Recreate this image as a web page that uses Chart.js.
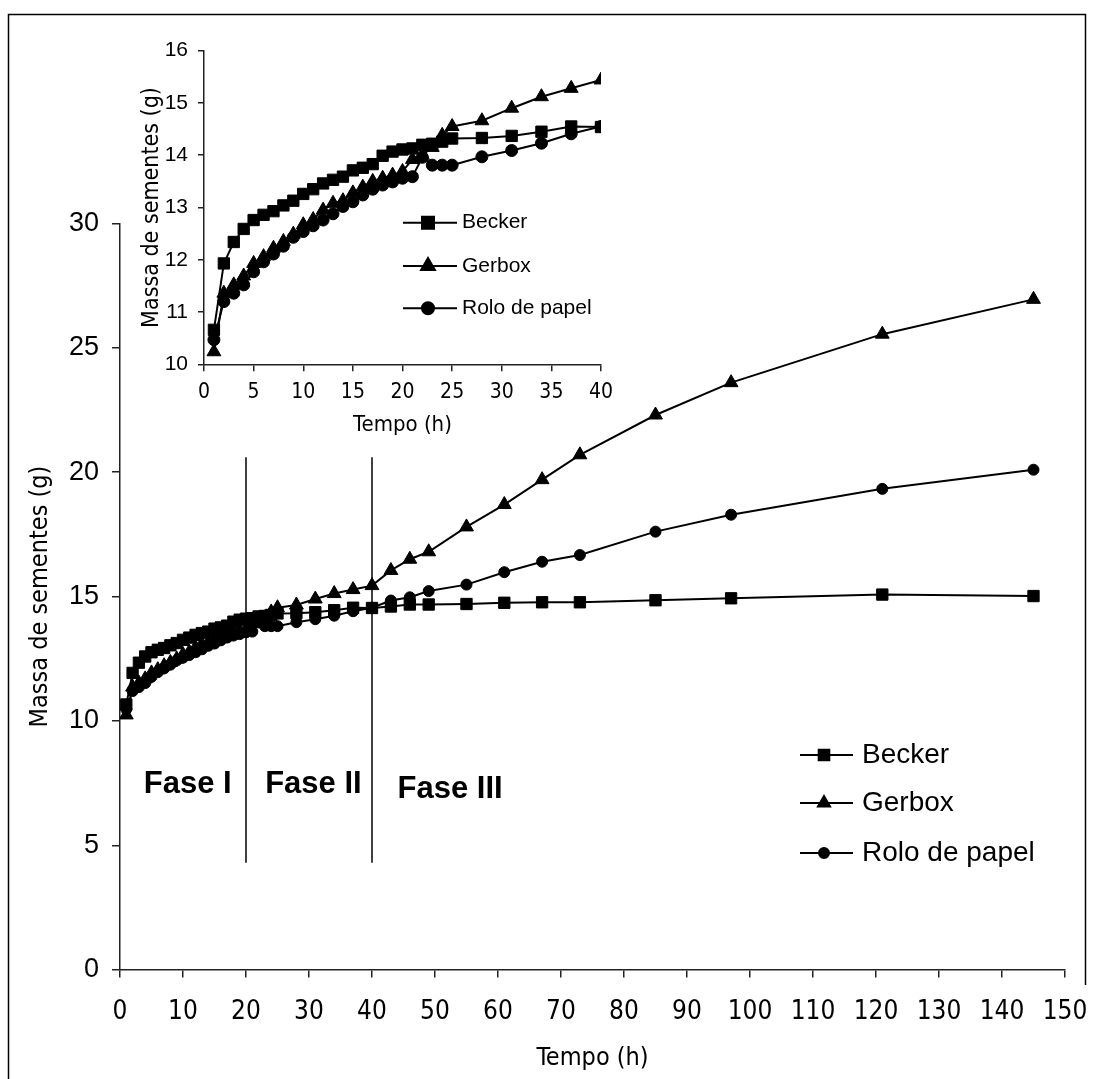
<!DOCTYPE html>
<html>
<head>
<meta charset="utf-8">
<script src="https://cdn.jsdelivr.net/npm/chart.js@4.4.1/dist/chart.umd.min.js"></script>
<style>
  body { margin: 0; background: #fff; }
  #wrap { position: relative; width: 1093px; height: 1079px; overflow: hidden; }
  #main { position: absolute; left: 0; top: 0; }
  #inset { position: absolute; left: 130px; top: 30px; }
</style>
</head>
<body>
<div id="wrap">
  <canvas id="main" width="1093" height="1079"></canvas>
  <canvas id="inset" width="500" height="420"></canvas>
</div>
<script>
// tempo (h) das pesagens
const tempos = [1, 2, 3, 4, 5, 6, 7, 8, 9, 10, 11, 12, 13, 14, 15, 16, 17, 18, 19, 20,
  21, 22, 23, 24, 25, 28, 31, 34, 37, 40, 43, 46, 49, 55, 61, 67, 73, 85, 97, 121, 145];

// massa de sementes (g)
const becker = [10.66, 11.93, 12.34, 12.59, 12.76, 12.86, 12.93, 13.04, 13.13, 13.26,
  13.35, 13.46, 13.53, 13.59, 13.71, 13.76, 13.83, 13.99, 14.07, 14.11,
  14.13, 14.20, 14.22, 14.26, 14.32, 14.33, 14.37, 14.45, 14.55, 14.54,
  14.60, 14.68, 14.68, 14.70, 14.75, 14.77, 14.77, 14.85, 14.93, 15.08, 15.02];
const gerbox = [10.24, 11.36, 11.52, 11.69, 11.93, 12.06, 12.22, 12.35, 12.49, 12.67,
  12.77, 12.95, 13.08, 13.13, 13.28, 13.39, 13.50, 13.56, 13.62, 13.69,
  13.92, 14.00, 14.15, 14.38, 14.55, 14.66, 14.90, 15.12, 15.28, 15.44,
  16.05, 16.50, 16.80, 17.80, 18.70, 19.70, 20.70, 22.30, 23.60, 25.55, 26.95];
const rolo = [10.47, 11.20, 11.36, 11.52, 11.77, 11.96, 12.11, 12.26, 12.43, 12.54,
  12.65, 12.76, 12.88, 13.02, 13.11, 13.24, 13.35, 13.43, 13.49, 13.56,
  13.59, 13.96, 13.81, 13.81, 13.81, 13.97, 14.09, 14.23, 14.41, 14.55,
  14.84, 14.97, 15.22, 15.48, 15.98, 16.40, 16.67, 17.61, 18.29, 19.33, 20.10];

const series = ['Becker', 'Gerbox', 'Rolo de papel'];
const marcadores = ['rect', 'triangle', 'circle'];

// divisao das fases
const fases = ['Fase I', 'Fase II', 'Fase III'];
const limitesFase = [20, 40];
const alturaLinhaFase = [4.3, 20.6];

// eixos
const xTicksMain = { min: 0, max: 150, step: 10 };
const yTicksMain = { min: 0, max: 30, step: 5 };
const xTicksInset = { min: 0, max: 40, step: 5 };
const yTicksInset = { min: 10, max: 16, step: 1 };
const fimInset = 40;

const NARROW = '"Liberation Sans Narrow", "Arial Narrow", "DejaVu Sans Condensed", sans-serif';
const REG = '"Liberation Sans", Arial, sans-serif';

Chart.defaults.color = '#000';

function pontos(vals, limite) {
  return tempos.map((t, i) => ({ x: t, y: vals[i] })).filter(p => limite == null || p.x <= limite);
}

function seriesDatasets(limite, raios) {
  return [becker, gerbox, rolo].map((vals, i) => ({
    label: series[i],
    data: pontos(vals, limite),
    borderColor: '#000',
    backgroundColor: '#000',
    borderWidth: 2,
    pointStyle: marcadores[i],
    pointRadius: raios[i],
    pointBackgroundColor: '#000',
    pointBorderColor: '#000',
    pointBorderWidth: 1,
    tension: 0
  }));
}

// legenda no estilo linha + marcador
const legendaPlugin = {
  id: 'legenda',
  afterDraw(chart, args, o) {
    const ctx = chart.ctx;
    ctx.save();
    for (let i = 0; i < series.length; i++) {
      const y = o.rows[i];
      ctx.strokeStyle = '#000';
      ctx.lineWidth = 2;
      ctx.beginPath();
      ctx.moveTo(o.x0, y);
      ctx.lineTo(o.x1, y);
      ctx.stroke();
      ctx.fillStyle = '#000';
      Chart.helpers.drawPoint(ctx, { pointStyle: marcadores[i], radius: o.radius[i], rotation: 0, borderWidth: 1 }, o.xm, y);
      ctx.font = o.size + 'px ' + REG;
      ctx.textBaseline = 'middle';
      ctx.textAlign = 'left';
      ctx.fillText(series[i], o.xt, y);
    }
    ctx.restore();
  }
};

const fasePlugin = {
  id: 'fases',
  afterDatasetsDraw(chart, args, o) {
    const ctx = chart.ctx;
    const xs = chart.scales.x, ys = chart.scales.y;
    ctx.save();
    ctx.font = 'bold ' + o.size + 'px ' + REG;
    ctx.textAlign = 'center';
    ctx.textBaseline = 'alphabetic';
    ctx.fillStyle = '#000';
    fases.forEach((f, i) => {
      ctx.fillText(f, xs.getPixelForValue(o.x[i]), ys.getPixelForValue(o.y[i]));
    });
    ctx.restore();
  }
};

const moldura = {
  id: 'moldura',
  afterDraw(chart) {
    const ctx = chart.ctx;
    ctx.save();
    ctx.strokeStyle = '#000';
    ctx.lineWidth = 1.5;
    ctx.beginPath();
    ctx.moveTo(8.5, 1079);
    ctx.lineTo(8.5, 14.5);
    ctx.lineTo(1085.5, 14.5);
    ctx.lineTo(1085.5, 985);
    ctx.stroke();
    ctx.restore();
  }
};

function eixo(cfg, o) {
  return {
    type: 'linear',
    min: cfg.min,
    max: cfg.max,
    ticks: { stepSize: cfg.step, padding: o.pad, font: { family: o.family, size: o.size }, color: '#000' },
    grid: { drawOnChartArea: false, drawTicks: true, tickLength: o.tick, color: '#222', lineWidth: 1.5 },
    border: { color: '#222', width: 1.5 },
    title: { display: true, text: o.title, font: { family: NARROW, size: o.tsize }, color: '#000', padding: o.tpad },
    afterFit: s => {
      o.fit(s);
      s.paddingLeft = 0; s.paddingRight = 0; s.paddingTop = 0; s.paddingBottom = 0;
    }
  };
}

// linhas verticais das fases
const faseDatasets = limitesFase.map(v => ({
  label: '',
  data: alturaLinhaFase.map(h => ({ x: v, y: h })),
  borderColor: '#000',
  borderWidth: 1.5,
  pointRadius: 0
}));

new Chart(document.getElementById('main'), {
  type: 'line',
  data: { datasets: seriesDatasets(null, [8, 8, 5.5]).concat(faseDatasets) },
  options: {
    responsive: false,
    animation: false,
    devicePixelRatio: 1,
    layout: { padding: { left: 15, top: 223.5, right: 28, bottom: 0 } },
    plugins: {
      legend: { display: false },
      tooltip: { enabled: false },
      legenda: { x0: 800, x1: 853, xm: 824, xt: 862, rows: [755, 803, 853], radius: [7.5, 7, 5], size: 28 },
      fases: { x: [10.75, 30.7, 52.4], y: [7.09, 7.09, 6.89], size: 31 }
    },
    scales: {
      x: eixo(xTicksMain, { pad: 19, family: NARROW, size: 26, tick: 8, title: 'Tempo (h)', tsize: 25,
        tpad: { top: 0, bottom: 6 }, fit: s => { s.height = 109.4; } }),
      y: eixo(yTicksMain, { pad: 13, family: REG, size: 27, tick: 8, title: 'Massa de sementes (g)', tsize: 25,
        tpad: { top: 10, bottom: 0 }, fit: s => { s.width = 105; } })
    }
  },
  plugins: [legendaPlugin, fasePlugin, moldura]
});

new Chart(document.getElementById('inset'), {
  type: 'line',
  data: { datasets: seriesDatasets(fimInset, [8, 8, 6]) },
  options: {
    responsive: false,
    animation: false,
    devicePixelRatio: 1,
    layout: { padding: { left: 4, top: 20.7, right: 29, bottom: 0 } },
    plugins: {
      legend: { display: false },
      tooltip: { enabled: false },
      legenda: { x0: 273, x1: 327, xm: 298, xt: 332, rows: [192.7, 236, 278.3], radius: [8.5, 8, 6], size: 21 }
    },
    scales: {
      x: eixo(xTicksInset, { pad: 9, family: NARROW, size: 21, tick: 7, title: 'Tempo (h)', tsize: 22,
        tpad: { top: 0, bottom: 12 }, fit: s => { s.height = 85.7; } }),
      y: eixo(yTicksInset, { pad: 10, family: REG, size: 21, tick: 6, title: 'Massa de sementes (g)', tsize: 23,
        tpad: { top: 4, bottom: 0 }, fit: s => { s.width = 70; } })
    }
  },
  plugins: [legendaPlugin]
});
</script>
</body>
</html>
